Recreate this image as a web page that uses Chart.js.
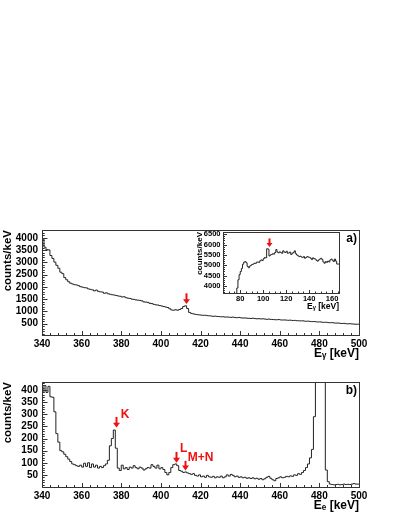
<!DOCTYPE html>
<html>
<head>
<meta charset="utf-8">
<script src="https://cdn.jsdelivr.net/npm/chart.js@4.4.0/dist/chart.umd.min.js"></script>
<style>
  body { margin: 0; background: #fff; }
  canvas { position: absolute; }
</style>
</head>
<body>
<canvas id="panelA" width="399" height="140" style="left:0;top:220px"></canvas>
<canvas id="inset" width="155" height="86" style="left:190px;top:225px"></canvas>
<canvas id="panelB" width="399" height="140" style="left:0;top:372px"></canvas>
<script>
// 1 keV bins, first bin starts at the given energy
const startA = 340;
const countsA = [
    4150, 3950, 3620, 3520, 3510, 3280, 3160, 3010, 2880, 2760,
    2600, 2540, 2380, 2290, 2210, 2150, 2120, 2090, 2080, 2050,
    2010, 1990, 1970, 1960, 1920, 1900, 1880, 1840, 1870, 1820,
    1800, 1790, 1740, 1760, 1720, 1700, 1680, 1670, 1650, 1630,
    1620, 1590, 1600, 1560, 1540, 1530, 1500, 1490, 1470, 1460,
    1450, 1430, 1390, 1380, 1370, 1330, 1320, 1290, 1270, 1260,
    1240, 1220, 1200, 1180, 1160, 1110, 1060, 1050, 1070, 1050,
    1080, 1120, 1200, 1230, 1120, 960, 920, 900, 880, 870,
    860, 850, 840, 845, 830, 820, 815, 800, 810, 795,
    790, 780, 785, 770, 775, 765, 760, 770, 750, 745,
    755, 740, 730, 735, 725, 720, 715, 725, 710, 700,
    705, 695, 700, 690, 680, 690, 675, 670, 665, 660,
    670, 655, 650, 655, 645, 640, 645, 630, 635, 625,
    620, 615, 620, 605, 600, 605, 590, 585, 590, 575,
    570, 575, 560, 555, 560, 545, 540, 545, 530, 525,
    530, 515, 510, 515, 500, 495, 500, 490, 485, 480
];

const startInset = 65;
const countsInset = [
    0, 0, 0, 0, 0, 0, 0, 0, 0, 0, 0, 0, 0,
    3900, 4300, 4550, 4700, 4850, 5050, 5150, 5180, 5120, 4950,
    4880, 4960, 5000, 5040, 5060, 5100, 5090, 5150, 5160, 5140,
    5220, 5260, 5230, 5320, 5380, 5360, 5800, 5780, 5450, 5500,
    5520, 5560, 5540, 5620, 5760, 5640, 5600, 5650, 5620, 5580,
    5700, 5640, 5620, 5680, 5580, 5600, 5640, 5520, 5580, 5620,
    5700, 5560, 5500, 5460, 5420, 5440, 5400, 5380, 5420, 5340,
    5380, 5420, 5400, 5380, 5340, 5280, 5360, 5320, 5300, 5240,
    5200, 5260, 5300, 5340, 5280, 5160, 5100, 5180, 5140, 5200,
    5160, 5260, 5300, 5240, 5180, 5300, 5200, 5060
];

const startB = 340;
const countsB = [
    385, 390, 418, 390, 415, 372, 370, 310, 220, 185,
    150, 145, 135, 125, 115, 105, 95, 92, 88, 85,
    90, 82, 98, 85, 100, 80, 95, 82, 90, 78,
    85, 80, 88, 95, 110, 170, 200, 235, 160, 78,
    68, 90, 75, 80, 72, 82, 78, 88, 80, 75,
    82, 78, 70, 75, 80, 78, 92, 85, 78, 90,
    75, 80, 72, 60, 50, 60, 80, 92, 95, 88,
    68, 65, 60, 62, 58, 55, 52, 55, 48, 45,
    50, 42, 45, 40, 48, 42, 40, 44, 38, 42,
    40, 45, 38, 42, 50, 45, 52, 48, 42, 45,
    40, 42, 38, 40, 36, 38, 35, 38, 34, 36,
    32, 35, 30, 34, 40, 44, 36, 30, 26, 35,
    38, 42, 38, 40, 44, 42, 46, 44, 50, 48,
    55, 52, 60, 68, 80, 95, 120, 155, 290, 2000,
    3000, 3500, 3000, 1500, 70, 22, 12, 10, 9, 10,
    11, 9, 10, 12, 10, 11, 10, 12, 14, 12
];

const xTicksMain = [340, 360, 380, 400, 420, 440, 460, 480, 500];
const yTicksA = [500, 1000, 1500, 2000, 2500, 3000, 3500, 4000];
const yTicksB = [50, 100, 150, 200, 250, 300, 350, 400];
const xTicksInset = [80, 100, 120, 140, 160];
const yTicksInset = [4000, 4500, 5000, 5500, 6000, 6500];

// arrows: energy, tail value, tip value
const arrowsA = [{ x: 412.7, from: 1740, to: 1300 }];
const arrowsInset = [{ x: 105, from: 6300, to: 5880 }];
const arrowsB = [
    { x: 377.4, from: 289, to: 245 },
    { x: 407.7, from: 145, to: 100 },
    { x: 412.1, from: 108, to: 68 }
];
const linesB = [
    { text: 'K', x: 379.8, y: 300 },
    { text: 'L', x: 409.6, y: 160 },
    { text: 'M+N', x: 413.6, y: 120 }
];

const RED = '#ee1111';
const FONT = 'Liberation Sans, Arial, sans-serif';

function histPoints(start, values) {
    const pts = values.map((v, i) => ({ x: start + i, y: v }));
    pts.push({ x: start + values.length, y: values[values.length - 1] });
    return pts;
}

// ROOT-like frame with inward ticks on bottom and left
const rootFrame = {
    id: 'rootFrame',
    afterDatasetsDraw(chart, args, opts) {
        const { ctx, chartArea: a } = chart;
        const { x, y } = chart.scales;
        ctx.save();
        ctx.strokeStyle = '#333';
        ctx.lineWidth = 1;
        ctx.beginPath();
        for (let v = Math.ceil(x.min / opts.xMinor) * opts.xMinor; v <= x.max; v += opts.xMinor) {
            const px = Math.round(x.getPixelForValue(v)) + 0.5;
            const len = v % opts.xMajor === 0 ? opts.xLen : opts.xLen / 2;
            ctx.moveTo(px, a.bottom);
            ctx.lineTo(px, a.bottom - len);
        }
        for (let v = Math.ceil(y.min / opts.yMinor) * opts.yMinor; v <= y.max; v += opts.yMinor) {
            const py = Math.round(y.getPixelForValue(v)) + 0.5;
            const len = v % opts.yMajor === 0 ? opts.yLen : opts.yLen / 2;
            ctx.moveTo(a.left, py);
            ctx.lineTo(a.left + len, py);
        }
        ctx.stroke();
        ctx.strokeRect(Math.round(a.left) + 0.5, Math.round(a.top) + 0.5,
            Math.round(a.right - a.left), Math.round(a.bottom - a.top));
        ctx.restore();
    }
};

const marks = {
    id: 'marks',
    afterDraw(chart, args, opts) {
        const { ctx, chartArea: a } = chart;
        const { x, y } = chart.scales;
        ctx.save();
        (opts.arrows || []).forEach(ar => {
            const px = Math.round(x.getPixelForValue(ar.x)) + 0.5;
            const y0 = y.getPixelForValue(ar.from);
            const y1 = y.getPixelForValue(ar.to);
            const hw = opts.head || 3.5;
            ctx.strokeStyle = RED;
            ctx.fillStyle = RED;
            ctx.lineWidth = 2;
            ctx.beginPath();
            ctx.moveTo(px, y0);
            ctx.lineTo(px, y1 - hw);
            ctx.stroke();
            ctx.beginPath();
            ctx.moveTo(px - hw, y1 - hw * 1.4);
            ctx.lineTo(px + hw, y1 - hw * 1.4);
            ctx.lineTo(px, y1);
            ctx.closePath();
            ctx.fill();
        });
        ctx.fillStyle = RED;
        ctx.font = 'bold 12px ' + FONT;
        ctx.textBaseline = 'middle';
        ctx.textAlign = 'left';
        (opts.labels || []).forEach(l => {
            ctx.fillText(l.text, x.getPixelForValue(l.x), y.getPixelForValue(l.y));
        });
        if (opts.tag) {
            ctx.fillStyle = '#000';
            ctx.textAlign = 'right';
            ctx.fillText(opts.tag, a.right - 2, a.top + 9);
        }
        ctx.restore();
    }
};

function histChart(id, cfg) {
    const tickFont = { family: FONT, size: cfg.tickSize, weight: 'bold' };
    const titleFont = { family: FONT, size: cfg.titleSize, weight: 'bold', lineHeight: 1 };
    return new Chart(document.getElementById(id), {
        type: 'line',
        data: {
            datasets: [{
                data: histPoints(cfg.start, cfg.counts),
                stepped: 'after',
                borderColor: '#222',
                borderWidth: 1,
                pointRadius: 0,
                fill: false
            }]
        },
        options: {
            responsive: false,
            animation: false,
            devicePixelRatio: 1,
            layout: { padding: cfg.padding },
            plugins: {
                legend: { display: false },
                tooltip: { enabled: false },
                rootFrame: cfg.frame,
                marks: cfg.marks
            },
            scales: {
                x: {
                    type: 'linear',
                    min: cfg.xMin,
                    max: cfg.xMax,
                    afterBuildTicks: s => { s.ticks = cfg.xTicks.map(v => ({ value: v })); },
                    afterFit: s => { s.height = cfg.xAxisHeight; },
                    grid: { display: false, drawTicks: false },
                    border: { display: false },
                    ticks: {
                        font: tickFont, color: '#000', padding: cfg.xTickPad,
                        maxRotation: 0, autoSkip: false, callback: v => String(v)
                    },
                    title: {
                        display: true, text: cfg.xTitle, align: 'end',
                        font: titleFont, color: '#000', padding: 0
                    }
                },
                y: {
                    type: 'linear',
                    min: cfg.yMin,
                    max: cfg.yMax,
                    afterBuildTicks: s => { s.ticks = cfg.yTicks.map(v => ({ value: v })); },
                    afterFit: s => { s.width = cfg.yAxisWidth; },
                    grid: { display: false, drawTicks: false },
                    border: { display: false },
                    ticks: {
                        font: tickFont, color: '#000', padding: cfg.yTickPad,
                        autoSkip: false, callback: v => String(v)
                    },
                    title: {
                        display: true, text: 'counts/keV', align: 'end',
                        font: { family: FONT, size: cfg.yTitleSize, weight: 'bold', lineHeight: 1 },
                        color: '#000', padding: { top: cfg.yTitlePad, bottom: 0 }
                    }
                }
            }
        },
        plugins: [rootFrame, marks]
    });
}

histChart('panelA', {
    start: startA, counts: countsA,
    xMin: 340, xMax: 500, yMin: 40, yMax: 4320,
    xTicks: xTicksMain, yTicks: yTicksA,
    padding: { top: 7, right: 40, bottom: 0, left: 0 },
    xAxisHeight: 25, yAxisWidth: 42, xTickPad: 3, yTickPad: 4,
    tickSize: 10, titleSize: 12, yTitleSize: 11.5, yTitlePad: 2.5,
    xTitle: 'E\u1D67 [keV]',
    frame: { xMinor: 4, xMajor: 20, xLen: 4, yMinor: 100, yMajor: 500, yLen: 5.5 },
    marks: { arrows: arrowsA, tag: 'a)' }
});

histChart('inset', {
    start: startInset, counts: countsInset,
    xMin: 65, xMax: 166, yMin: 3660, yMax: 6610,
    xTicks: xTicksInset, yTicks: yTicksInset,
    padding: { top: 5, right: 6, bottom: 0, left: 0 },
    xAxisHeight: 18, yAxisWidth: 33, xTickPad: 1.5, yTickPad: 2.5,
    tickSize: 7.5, titleSize: 8.5, yTitleSize: 8, yTitlePad: 5.5,
    xTitle: 'E\u1D67 [keV]',
    frame: { xMinor: 5, xMajor: 20, xLen: 3, yMinor: 100, yMajor: 500, yLen: 4 },
    marks: { arrows: arrowsInset, head: 3 }
});

histChart('panelB', {
    start: startB, counts: countsB,
    xMin: 340, xMax: 500, yMin: 0, yMax: 433,
    xTicks: xTicksMain, yTicks: yTicksB,
    padding: { top: 8, right: 40, bottom: 0, left: 0 },
    xAxisHeight: 25, yAxisWidth: 42, xTickPad: 3, yTickPad: 4,
    tickSize: 10, titleSize: 12, yTitleSize: 11.5, yTitlePad: 2.5,
    xTitle: 'E\u2091 [keV]',
    frame: { xMinor: 4, xMajor: 20, xLen: 4, yMinor: 10, yMajor: 50, yLen: 5.5 },
    marks: { arrows: arrowsB, labels: linesB, tag: 'b)' }
});
</script>
</body>
</html>
